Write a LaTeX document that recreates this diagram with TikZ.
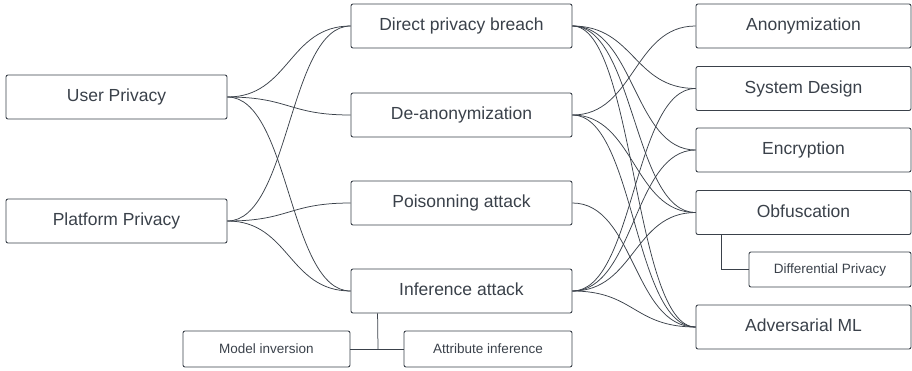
\documentclass[tikz,border=0pt]{standalone}
\usepackage{fontspec}
\setmainfont{Liberation Sans}
\usepackage{tikz}
\definecolor{ink}{HTML}{3A414A}

\begin{document}
\begin{tikzpicture}[
   x=1pt,y=-1pt,
   font=\fontsize{17.5}{20}\selectfont,
   box/.style={draw=ink,text=ink,line width=0.9pt,rounded corners=2pt,inner sep=0pt,minimum height=44pt,text height=12.5pt,text depth=3pt},
   goal/.style={box,minimum width=221pt},
   threat/.style={box,minimum width=221pt},
   defense/.style={box,minimum width=215pt},
   sub/.style={box,font=\fontsize{13.5}{16}\selectfont,minimum height=36pt,text height=9.7pt,text depth=1.5pt},
   link/.style={draw=ink,line width=0.75pt,to path={.. controls +(62,0) and +(-62,0) .. (\tikztotarget) \tikztonodes}},
   tree/.style={draw=ink,line width=0.75pt}]
\useasboundingbox (0,0) rectangle (912,370);
% left column
\node[goal] (UP) at (116.5,97) {User Privacy};
\node[goal] (PP) at (116.5,221) {Platform Privacy};
% middle column
\node[threat] (DPB) at (461.5,26) {Direct privacy breach};
\node[threat] (DA) at (461.5,115) {De-anonymization};
\node[threat] (PA) at (461.5,203) {Poisonning attack};
\node[threat] (IA) at (461.5,291) {Inference attack};
\node[sub,minimum width=167pt] (MI) at (266.5,349) {Model inversion};
\node[sub,minimum width=168pt] (AI) at (488,349) {Attribute inference};
% right column
\node[defense] (AN) at (803.5,26) {Anonymization};
\node[defense] (SD) at (803.5,88.5) {System Design};
\node[defense] (EN) at (803.5,150) {Encryption};
\node[defense] (OB) at (803.5,212.5) {Obfuscation};
\node[sub,minimum width=162pt,minimum height=35pt] (DP) at (830,269.5) {Differential Privacy};
\node[defense] (AML) at (803.5,327) {Adversarial ML};
% sub items
\draw[tree] (IA.south west) ++(27,0) -- (MI.east -| 378,0);
\draw[tree] (MI.east) -- (AI.west);
\draw[tree] (OB.south west) ++(26,0) |- (DP.west);
% privacy -> threats
\draw[link] (UP.east) to (DPB.west);
\draw[link] (UP.east) to (DA.west);
\draw[link] (UP.east) to (IA.west);
\draw[link] (PP.east) to (DPB.west);
\draw[link] (PP.east) to (PA.west);
\draw[link] (PP.east) to (IA.west);
% threats -> defenses
\draw[link] (DPB.east) to (SD.west);
\draw[link] (DPB.east) to (EN.west);
\draw[link] (DPB.east) to (OB.west);
\draw[link] (DPB.east) to (AML.west);
\draw[link] (DA.east) to (AN.west);
\draw[link] (DA.east) to (OB.west);
\draw[link] (DA.east) to (AML.west);
\draw[link] (PA.east) to (AML.west);
\draw[link] (IA.east) to (SD.west);
\draw[link] (IA.east) to (EN.west);
\draw[link] (IA.east) to (OB.west);
\draw[link] (IA.east) to (AML.west);
\end{tikzpicture}
\end{document}
